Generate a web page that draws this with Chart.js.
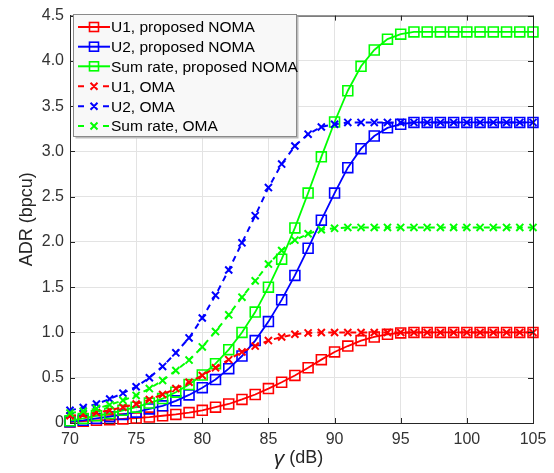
<!DOCTYPE html>
<html>
<head>
<meta charset="utf-8">
<title>ADR vs gamma</title>
<script src="https://cdn.jsdelivr.net/npm/chart.js@4.4.0/dist/chart.umd.min.js"></script>
<style>
    html, body { margin: 0; padding: 0; background: #ffffff; }
    #wrap { position: relative; width: 554px; height: 473px; }
</style>
</head>
<body>
<div id="wrap"><canvas id="adrChart" width="554" height="473"></canvas></div>
<script>
// SNR axis (dB)
const gammaDb = [70, 71, 72, 73, 74, 75, 76, 77, 78, 79, 80, 81, 82, 83, 84, 85, 86, 87,
                 88, 89, 90, 91, 92, 93, 94, 95, 96, 97, 98, 99, 100, 101, 102, 103, 104, 105];

// proposed NOMA
const u1Noma = [0.010, 0.020, 0.030, 0.035, 0.045, 0.055, 0.065, 0.080, 0.095, 0.115, 0.140, 0.175,
                0.210, 0.260, 0.315, 0.380, 0.450, 0.525, 0.610, 0.700, 0.785, 0.850, 0.910, 0.950,
                0.980, 0.995, 1.000, 1.000, 1.000, 1.000, 1.000, 1.000, 1.000, 1.000, 1.000, 1.000];
const u2Noma = [0.015, 0.030, 0.050, 0.070, 0.095, 0.120, 0.155, 0.190, 0.245, 0.310, 0.390, 0.480,
                0.600, 0.740, 0.910, 1.120, 1.360, 1.630, 1.930, 2.240, 2.540, 2.820, 3.030, 3.170,
                3.260, 3.300, 3.320, 3.320, 3.320, 3.320, 3.320, 3.320, 3.320, 3.320, 3.320, 3.320];
const sumNoma = [0.025, 0.050, 0.080, 0.105, 0.140, 0.175, 0.220, 0.270, 0.340, 0.425, 0.530, 0.655,
                 0.810, 1.000, 1.225, 1.500, 1.810, 2.155, 2.540, 2.940, 3.325, 3.670, 3.940, 4.120,
                 4.240, 4.295, 4.320, 4.320, 4.320, 4.320, 4.320, 4.320, 4.320, 4.320, 4.320, 4.320];

// OMA
const u1Oma = [0.080, 0.095, 0.115, 0.140, 0.175, 0.210, 0.260, 0.315, 0.380, 0.450, 0.525, 0.610,
               0.700, 0.785, 0.850, 0.910, 0.950, 0.980, 0.995, 1.000, 1.000, 1.000, 1.000, 1.000,
               1.000, 1.000, 1.000, 1.000, 1.000, 1.000, 1.000, 1.000, 1.000, 1.000, 1.000, 1.000];
const u2Oma = [0.140, 0.170, 0.210, 0.265, 0.330, 0.400, 0.500, 0.625, 0.775, 0.940, 1.160, 1.410,
               1.690, 1.990, 2.290, 2.600, 2.860, 3.060, 3.190, 3.270, 3.300, 3.320, 3.320, 3.320,
               3.320, 3.320, 3.320, 3.320, 3.320, 3.320, 3.320, 3.320, 3.320, 3.320, 3.320, 3.320];
const sumOma = [0.110, 0.130, 0.160, 0.200, 0.250, 0.305, 0.380, 0.470, 0.580, 0.695, 0.840, 1.010,
                1.195, 1.390, 1.570, 1.755, 1.905, 2.020, 2.090, 2.135, 2.150, 2.160, 2.160, 2.160,
                2.160, 2.160, 2.160, 2.160, 2.160, 2.160, 2.160, 2.160, 2.160, 2.160, 2.160, 2.160];

const seriesLabels = ['U1, proposed NOMA', 'U2, proposed NOMA', 'Sum rate, proposed NOMA',
                      'U1, OMA', 'U2, OMA', 'Sum rate, OMA'];
const seriesColors = ['#ff0000', '#0000ff', '#00ff00', '#ff0000', '#0000ff', '#00ff00'];
const seriesValues = [u1Noma, u2Noma, sumNoma, u1Oma, u2Oma, sumOma];

const xTicks = [70, 75, 80, 85, 90, 95, 100, 105];
const yTicks = [0, 0.5, 1.0, 1.5, 2.0, 2.5, 3.0, 3.5, 4.0, 4.5];

const FONT = "'Liberation Sans', Arial, Helvetica, sans-serif";
const AXIS_COLOR = '#262626';

// 构建数据集
function buildDataset(i) {
    const isNoma = i < 3;
    const color = seriesColors[i];
    return {
        label: seriesLabels[i],
        data: gammaDb.map((g, k) => ({ x: g, y: seriesValues[i][k] })),
        borderColor: color,
        backgroundColor: 'rgba(0,0,0,0)',
        borderWidth: isNoma ? 1.8 : 2,
        borderDash: isNoma ? [] : [6, 5],
        pointStyle: isNoma ? 'rect' : 'crossRot',
        pointRadius: isNoma ? 7 : 5,
        pointBorderWidth: isNoma ? 1.6 : 2,
        pointBorderColor: color,
        pointBackgroundColor: 'rgba(0,0,0,0)',
        tension: 0,
        clip: false,
        order: 6 - i
    };
}

// 边框、刻度、坐标轴标题和图例
const frameAndLegend = {
    id: 'frameAndLegend',
    afterDraw(chart) {
        const { ctx, chartArea: a, scales: { x, y } } = chart;
        ctx.save();
        ctx.strokeStyle = AXIS_COLOR;
        ctx.lineWidth = 1;
        ctx.setLineDash([]);
        ctx.beginPath();
        ctx.moveTo(a.left, a.top + 0.5);
        ctx.lineTo(a.right + 0.5, a.top + 0.5);
        ctx.lineTo(a.right + 0.5, a.bottom);
        // inner ticks
        xTicks.forEach(v => {
            const px = Math.round(x.getPixelForValue(v)) + 0.5;
            ctx.moveTo(px, a.bottom); ctx.lineTo(px, a.bottom - 5);
            ctx.moveTo(px, a.top); ctx.lineTo(px, a.top + 5);
        });
        yTicks.forEach(v => {
            const py = Math.round(y.getPixelForValue(v)) + 0.5;
            ctx.moveTo(a.left, py); ctx.lineTo(a.left + 5, py);
            ctx.moveTo(a.right, py); ctx.lineTo(a.right - 5, py);
        });
        ctx.stroke();

        // axis titles
        ctx.fillStyle = AXIS_COLOR;
        ctx.textBaseline = 'middle';
        ctx.font = '18px ' + FONT;
        ctx.save();
        ctx.translate(27, (a.top + a.bottom) / 2);
        ctx.rotate(-Math.PI / 2);
        ctx.textAlign = 'center';
        ctx.fillText('ADR (bpcu)', 0, 0);
        ctx.restore();

        const gPart = 'γ';
        const rest = ' (dB)';
        ctx.font = 'italic 21px ' + FONT;
        const gW = ctx.measureText(gPart).width;
        ctx.font = '18px ' + FONT;
        const rW = ctx.measureText(rest).width;
        const cx = (a.left + a.right) / 2 - 3;
        const sx = cx - (gW + rW) / 2;
        ctx.textAlign = 'left';
        ctx.font = 'italic 21px ' + FONT;
        ctx.fillText(gPart, sx, 459);
        ctx.font = '18px ' + FONT;
        ctx.fillText(rest, sx + gW, 458);

        // legend
        const lx = 73.5, ly = 14.5, lw = 223, lh = 122;
        ctx.fillStyle = '#bdbdbd';
        ctx.fillRect(lx + 2, ly + 2, lw, lh);
        ctx.fillStyle = '#f8f8f8';
        ctx.fillRect(lx, ly, lw, lh);
        ctx.strokeStyle = '#8a8a8a';
        ctx.strokeRect(lx, ly, lw, lh);

        const rowY = [27, 46.7, 66.3, 86.3, 106.3, 126];
        ctx.font = '15.5px ' + FONT;
        ctx.textBaseline = 'middle';
        seriesLabels.forEach((label, i) => {
            const yy = rowY[i];
            const color = seriesColors[i];
            ctx.strokeStyle = color;
            ctx.lineWidth = 2;
            ctx.beginPath();
            if (i < 3) {
                ctx.moveTo(78, yy); ctx.lineTo(110, yy);
                ctx.stroke();
                ctx.lineWidth = 1.6;
                ctx.strokeRect(89.5, yy - 4.5, 9, 9);
            } else {
                ctx.moveTo(78, yy); ctx.lineTo(84, yy);
                ctx.moveTo(103, yy); ctx.lineTo(109, yy);
                ctx.moveTo(90.5, yy - 3.5); ctx.lineTo(97.5, yy + 3.5);
                ctx.moveTo(97.5, yy - 3.5); ctx.lineTo(90.5, yy + 3.5);
                ctx.stroke();
            }
            ctx.fillStyle = '#000000';
            ctx.fillText(label, 111, yy + 1);
        });
        ctx.restore();
    }
};

new Chart(document.getElementById('adrChart'), {
    type: 'line',
    data: { datasets: seriesLabels.map((_, i) => buildDataset(i)) },
    options: {
        responsive: false,
        animation: false,
        layout: { padding: { top: 13, right: 21, left: 0, bottom: 0 } },
        plugins: {
            legend: { display: false },
            tooltip: { enabled: false }
        },
        scales: {
            x: {
                type: 'linear',
                min: 70,
                max: 105,
                afterFit: scale => { scale.height = 50; },
                afterBuildTicks: scale => { scale.ticks = xTicks.map(v => ({ value: v })); },
                grid: { color: '#e3e3e3', drawTicks: false },
                border: { color: AXIS_COLOR, width: 1 },
                ticks: {
                    padding: 7,
                    color: '#333333',
                    font: { family: FONT, size: 16 },
                    maxRotation: 0,
                    callback: v => String(v)
                }
            },
            y: {
                min: 0,
                max: 4.5,
                afterFit: scale => { scale.width = 70; },
                afterBuildTicks: scale => { scale.ticks = yTicks.map(v => ({ value: v })); },
                grid: { color: '#e3e3e3', drawTicks: false },
                border: { color: AXIS_COLOR, width: 1 },
                ticks: {
                    padding: 6,
                    color: '#333333',
                    font: { family: FONT, size: 16 },
                    callback: v => (v === 0 ? '0' : v.toFixed(1))
                }
            }
        }
    },
    plugins: [frameAndLegend]
});
</script>
</body>
</html>
